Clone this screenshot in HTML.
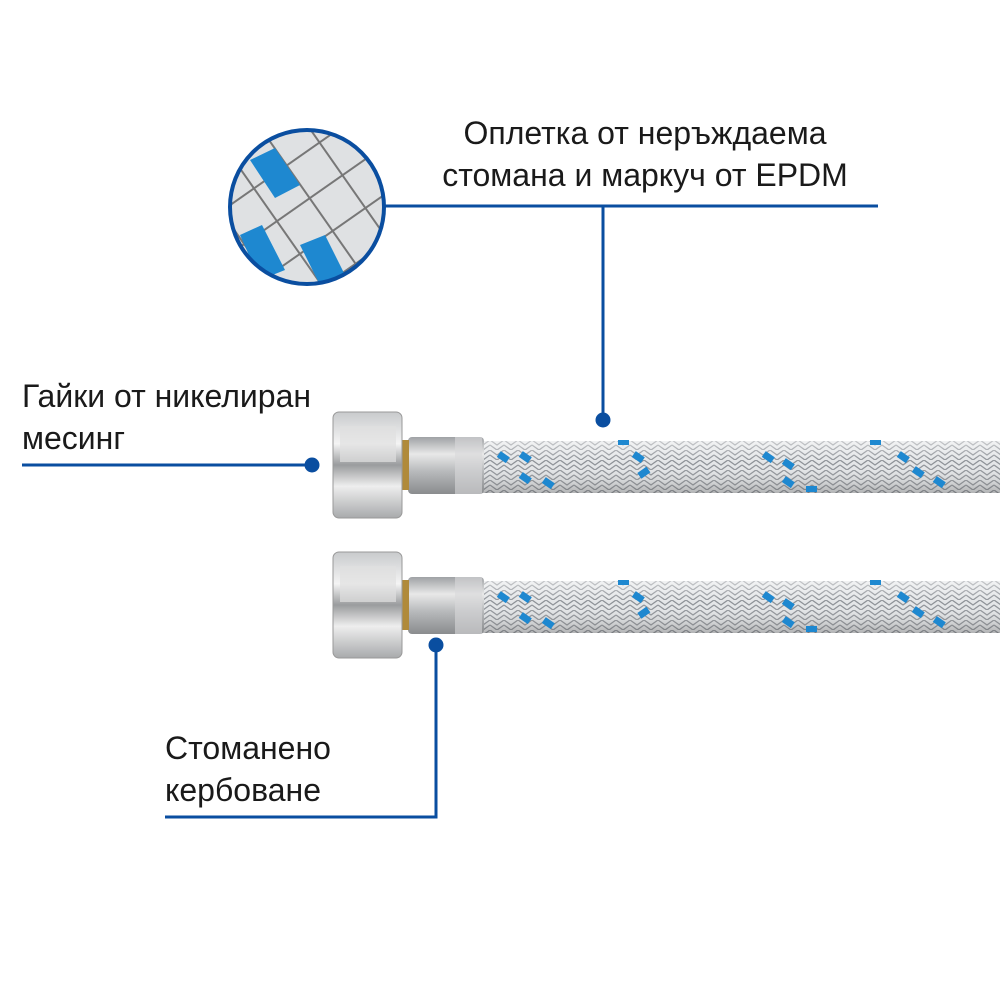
<!DOCTYPE html>
<html><head><meta charset="utf-8"><style>
body{margin:0;width:1000px;height:1000px;background:#fff;overflow:hidden;font-family:"Liberation Sans",sans-serif}
.t{position:absolute;font-size:32px;color:#1a1a1a;line-height:42px;white-space:nowrap}
</style></head><body>
<div class="t" style="left:440px;top:112px;width:410px;text-align:center">Оплетка от неръждаема<br>стомана и маркуч от EPDM</div>
<div class="t" style="left:22px;top:375px">Гайки от никелиран<br>месинг</div>
<div class="t" style="left:165px;top:727px">Стоманено<br>кербоване</div>
<svg width="1000" height="1000" style="position:absolute;left:0;top:0">
<defs>
<pattern id="br" width="14" height="10" patternUnits="userSpaceOnUse">
<rect width="14" height="10" fill="#e4e6e8"/>
<path d="M0 0 L7 5 L14 0 M0 5 L7 10 L14 5" stroke="#8c9096" stroke-width="1.3" fill="none"/>
</pattern>
<linearGradient id="sh" x1="0" y1="0" x2="0" y2="1">
<stop offset="0" stop-color="#fff" stop-opacity=".5"/><stop offset=".4" stop-color="#fff" stop-opacity="0"/><stop offset="1" stop-color="#555" stop-opacity=".35"/></linearGradient>
<linearGradient id="nut" x1="0" y1="0" x2="0" y2="1">
<stop offset="0" stop-color="#c8cacc"/><stop offset=".3" stop-color="#f4f4f4"/><stop offset=".5" stop-color="#9a9c9e"/><stop offset=".7" stop-color="#eeeeee"/><stop offset="1" stop-color="#a8aaac"/></linearGradient>
<linearGradient id="fer" x1="0" y1="0" x2="0" y2="1">
<stop offset="0" stop-color="#9fa2a5"/><stop offset=".3" stop-color="#e8e8e8"/><stop offset=".6" stop-color="#b8babc"/><stop offset="1" stop-color="#8a8c8e"/></linearGradient>
<pattern id="wv" width="40" height="40" patternUnits="userSpaceOnUse" patternTransform="rotate(-35)">
<rect width="40" height="40" fill="#dfe1e3"/><path d="M0 20 H40 M20 0 V40" stroke="#777" stroke-width="2"/></pattern>
<clipPath id="cc"><circle cx="307" cy="207" r="76"/></clipPath>
</defs>
<circle cx="307" cy="207" r="76" fill="url(#wv)"/>
<g clip-path="url(#cc)" fill="#1e88d0">
<polygon points="250,160 275,148 300,185 275,198"/>
<polygon points="240,235 262,225 285,270 260,280"/>
<polygon points="300,245 325,235 345,275 320,285"/>
</g>
<circle cx="307" cy="207" r="77" fill="none" stroke="#0a4ea0" stroke-width="4"/>
<g stroke="#0a4ea0" stroke-width="3" fill="none">
<path d="M385 206 H878 M603 206 V420"/>
<path d="M22 465 H312"/>
<path d="M165 817 H436 V645"/>
</g>
<g fill="#0a4ea0"><circle cx="603" cy="420" r="7.5"/><circle cx="312" cy="465" r="7.5"/><circle cx="436" cy="645" r="7.5"/></g>
<g id="h1">
<rect x="483" y="441" width="517" height="52" fill="url(#br)"/>
<rect x="483" y="441" width="517" height="52" fill="url(#sh)"/>
<g fill="#1e88d0">
<rect x="498" y="454" width="11" height="7" transform="rotate(35 504 457)"/><rect x="520" y="454" width="11" height="7" transform="rotate(35 526 457)"/>
<rect x="520" y="475" width="11" height="7" transform="rotate(35 526 478)"/><rect x="543" y="480" width="11" height="7" transform="rotate(35 549 483)"/>
<rect x="618" y="440" width="11" height="5"/><rect x="633" y="454" width="11" height="7" transform="rotate(35 639 457)"/><rect x="638" y="469" width="11" height="7" transform="rotate(-35 644 472)"/>
<rect x="763" y="454" width="11" height="7" transform="rotate(35 769 457)"/><rect x="783" y="461" width="11" height="7" transform="rotate(35 789 464)"/><rect x="783" y="479" width="11" height="7" transform="rotate(35 789 482)"/><rect x="806" y="486" width="11" height="6"/>
<rect x="870" y="440" width="11" height="5"/><rect x="898" y="454" width="11" height="7" transform="rotate(35 904 457)"/><rect x="913" y="469" width="11" height="7" transform="rotate(35 919 472)"/><rect x="934" y="479" width="11" height="7" transform="rotate(35 940 482)"/>
</g>
<rect x="408" y="437" width="76" height="57" rx="4" fill="url(#fer)"/>
<rect x="455" y="437" width="27" height="57" fill="#d8d9da" opacity=".6"/>
<rect x="399" y="440" width="10" height="50" fill="#b08a3a"/>
<rect x="333" y="412" width="69" height="106" rx="6" fill="url(#nut)" stroke="#999" stroke-width="1"/>
<rect x="340" y="426" width="56" height="36" fill="#e0e0e0" opacity=".7"/>
</g>
<use href="#h1" transform="translate(0,140)"/>
</svg>
</body></html>
